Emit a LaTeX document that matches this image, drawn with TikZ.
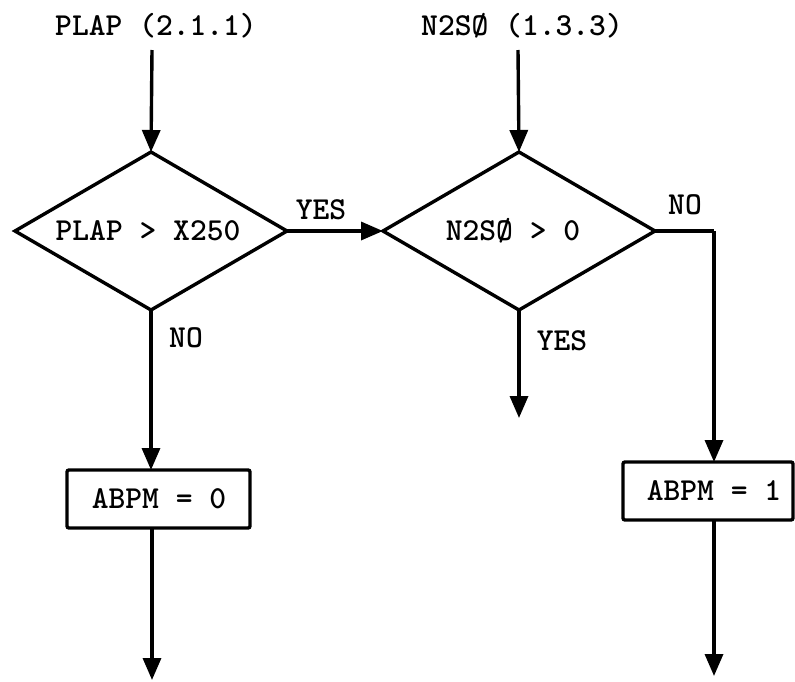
\documentclass[tikz,border=0pt]{standalone}
\usepackage{fontspec}
\usetikzlibrary{shapes.geometric,arrows.meta}
\begin{document}
\begin{tikzpicture}[x=1pt,y=-1pt,
  every node/.style={font=\ttfamily\bfseries\fontsize{32}{38}\selectfont, inner sep=0pt},
  dec/.style={draw, shape=diamond, line width=3.4pt, minimum width=272pt, minimum height=158pt, outer sep=0pt},
  boxn/.style={draw, rectangle, line width=3.4pt, rounded corners=2pt, outer sep=0pt},
  flow/.style={line width=3.4pt, -{Triangle[length=22pt,width=18pt]}},
  seg/.style={line width=3.4pt}]
\useasboundingbox (0,0) rectangle (795,681);
% top labels
\node (t1) at (156,26) {PLAP (2.1.1)};
\node (t2) at (522,26) {N2SØ (1.3.3)};
% decisions
\node[dec] (d1) at (151,231) {};
\node (d1t) at (148,231) {PLAP > X250};
\node[dec] (d2) at (519,231) {};
\node (d2t) at (513,231) {N2SØ > 0};
% boxes
\node[boxn, minimum width=183pt, minimum height=58pt] (b1) at (158.5,499) {};
\node (b1t) at (159,499) {ABPM = 0};
\node[boxn, minimum width=170pt, minimum height=58pt] (b2) at (708,491) {};
\node (b2t) at (714,491) {ABPM = 1};
% coordinates
\coordinate (s1) at (152,50);
\coordinate (s2) at (518,50);
\coordinate (k) at (714,231);
\coordinate (e1) at (152,680);
\coordinate (e2) at (519,418);
\coordinate (e3) at (714,676);
% connectors
\draw[flow] (s1) -- (d1.north);
\draw[flow] (s2) -- (d2.north);
\draw[flow] (d1.east) -- (d2.west);
\draw[flow] (d1.south) -- (d1.south |- b1.north);
\draw[flow] (d2.south) -- (e2);
\draw[seg] (d2.east) -- (k);
\draw[flow] (k) -- (k |- b2.north);
\draw[flow] (b1.south -| e1) -- (e1);
\draw[flow] (b2.south -| e3) -- (e3);
% connector labels
\node (ly1) at (321,210) {YES};
\node (ln2) at (685,205) {NO};
\node (ln1) at (186,338) {NO};
\node (ly2) at (562,341) {YES};
\end{tikzpicture}
\end{document}
